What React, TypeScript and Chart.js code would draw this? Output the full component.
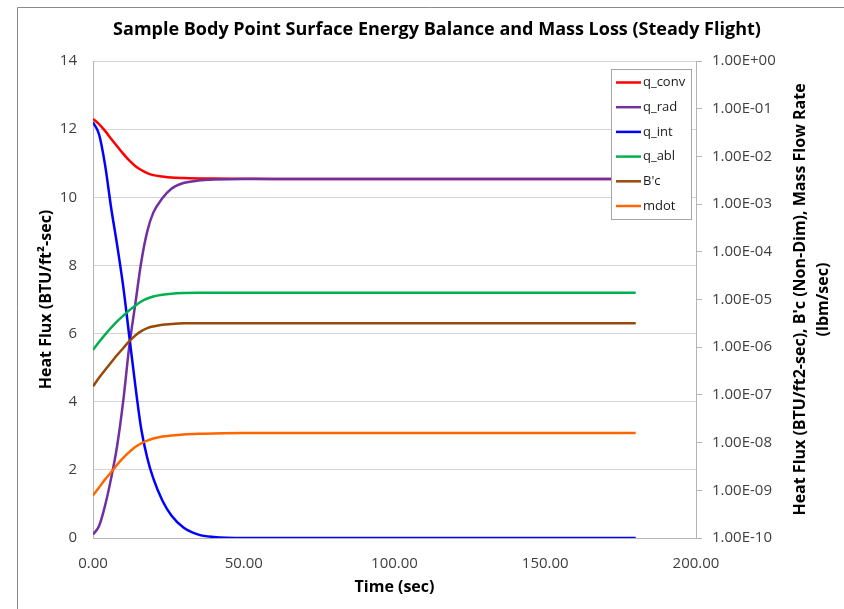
import { useEffect, useRef } from 'react';
import { Chart, registerables } from 'chart.js';

Chart.register(...registerables);

const times = [0, 2, 4, 6, 8, 10, 12, 14, 16, 18, 20, 23, 26, 30, 35, 40, 50, 60, 80, 100, 120, 140, 160, 180];

const qConv = [12.30, 12.15, 11.95, 11.72, 11.50, 11.28, 11.08, 10.92, 10.80, 10.71, 10.65, 10.61, 10.58, 10.565, 10.555, 10.55, 10.545, 10.54, 10.54, 10.54, 10.54, 10.54, 10.54, 10.54];
const qRad = [0.10, 0.35, 0.95, 1.75, 2.70, 4.00, 5.60, 6.85, 8.10, 9.00, 9.55, 9.97, 10.25, 10.42, 10.49, 10.52, 10.54, 10.54, 10.54, 10.54, 10.54, 10.54, 10.54, 10.54];
const qInt = [12.20, 11.85, 10.95, 9.70, 8.60, 7.40, 5.95, 4.50, 3.20, 2.35, 1.75, 1.10, 0.66, 0.31, 0.10, 0.03, 0.00, 0.00, 0.00, 0.00, 0.00, 0.00, 0.00, 0.00];
const qAbl = [5.52, 5.75, 5.97, 6.17, 6.36, 6.52, 6.68, 6.82, 6.94, 7.03, 7.09, 7.14, 7.17, 7.19, 7.20, 7.20, 7.20, 7.20, 7.20, 7.20, 7.20, 7.20, 7.20, 7.20];
const bPrimeC = [4.45, 4.70, 4.93, 5.15, 5.37, 5.57, 5.77, 5.94, 6.07, 6.16, 6.21, 6.26, 6.28, 6.30, 6.30, 6.30, 6.30, 6.30, 6.30, 6.30, 6.30, 6.30, 6.30, 6.30];
const mdot = [1.25, 1.48, 1.72, 1.93, 2.15, 2.35, 2.52, 2.67, 2.78, 2.86, 2.92, 2.98, 3.01, 3.04, 3.06, 3.07, 3.08, 3.08, 3.08, 3.08, 3.08, 3.08, 3.08, 3.08];

const seriesNames = ['q_conv', 'q_rad', 'q_int', 'q_abl', "B'c", 'mdot'];
const seriesColors = ['#FF0000', '#7030A0', '#0000FF', '#00B050', '#984807', '#FF6600'];

const xTickValues = [0, 50, 100, 150, 200];
const rightTickValues = [1e-10, 1e-9, 1e-8, 1e-7, 1e-6, 1e-5, 1e-4, 1e-3, 1e-2, 1e-1, 1];

const chartTitle = 'Sample Body Point Surface Energy Balance and Mass Loss (Steady Flight)';
const xTitle = 'Time (sec)';
const yTitle = 'Heat Flux (BTU/ft\u00B2-sec)';
const y1Title = ["Heat Flux (BTU/ft2-sec), B'c (Non-Dim), Mass Flow Rate", '(lbm/sec)'];

const FONT = "'Open Sans', sans-serif";
const TICK_COLOR = '#404040';
const AXIS_COLOR = '#b4b4b4';

function fmtSci(v: number): string {
  const e = Math.round(Math.log10(v));
  const a = Math.abs(e);
  return '1.00E' + (e < 0 ? '-' : '+') + (a < 10 ? '0' + a : String(a));
}

export default function App() {
  const ref = useRef<HTMLCanvasElement>(null);

  useEffect(() => {
    if (!ref.current) return;
    const values = [qConv, qRad, qInt, qAbl, bPrimeC, mdot];
    const datasets = values.map((v, i) => ({
      label: seriesNames[i],
      data: times.map((t, j) => ({ x: t, y: v[j] })),
      borderColor: seriesColors[i],
      backgroundColor: seriesColors[i],
      borderWidth: 2.5,
      pointRadius: 0,
      cubicInterpolationMode: 'monotone' as const,
      fill: false,
      yAxisID: 'y',
      order: values.length - i,
    }));

    const decor = {
      id: 'decor',
      beforeDraw(chart: any) {
        const ctx = chart.ctx as CanvasRenderingContext2D;
        ctx.save();
        ctx.fillStyle = '#ffffff';
        ctx.fillRect(0, 0, chart.width, chart.height);
        ctx.strokeStyle = '#8a8a8a';
        ctx.lineWidth = 1;
        ctx.beginPath();
        ctx.moveTo(17.5, chart.height);
        ctx.lineTo(17.5, 7.5);
        ctx.lineTo(chart.width, 7.5);
        ctx.stroke();
        ctx.restore();
      },
      afterDraw(chart: any) {
        const ctx = chart.ctx as CanvasRenderingContext2D;
        const area = chart.chartArea;
        ctx.save();
        // main title
        ctx.fillStyle = '#000000';
        ctx.font = `bold 18px ${FONT}`;
        ctx.textAlign = 'center';
        ctx.textBaseline = 'middle';
        ctx.fillText(chartTitle, 437, 30);
        // right axis title (reads bottom to top)
        const cy = (area.top + area.bottom) / 2;
        ctx.font = `bold 16px ${FONT}`;
        const xs = [800, 823];
        y1Title.forEach((line, k) => {
          ctx.save();
          ctx.translate(xs[k], cy);
          ctx.rotate(-Math.PI / 2);
          ctx.fillText(line, 0, 0);
          ctx.restore();
        });
        // legend
        const lx = 611.5, ly = 69.5, lw = 80, lh = 150;
        ctx.fillStyle = '#ffffff';
        ctx.fillRect(lx, ly, lw, lh);
        ctx.strokeStyle = '#a6a6a6';
        ctx.lineWidth = 1;
        ctx.strokeRect(lx, ly, lw, lh);
        ctx.font = `13px ${FONT}`;
        ctx.textAlign = 'left';
        chart.data.datasets.forEach((ds: any, i: number) => {
          const y = 82.5 + i * 24.7;
          ctx.strokeStyle = ds.borderColor;
          ctx.lineWidth = 2.5;
          ctx.beginPath();
          ctx.moveTo(616, y);
          ctx.lineTo(641, y);
          ctx.stroke();
          ctx.fillStyle = '#1a1a1a';
          ctx.fillText(ds.label, 643, y);
        });
        ctx.restore();
      },
    };

    const chart = new Chart(ref.current, {
      type: 'line',
      data: { datasets },
      options: {
        animation: false,
        responsive: false,
        devicePixelRatio: 1,
        layout: { padding: { top: 61, left: 0, right: 0, bottom: 0 } },
        plugins: {
          legend: { display: false },
          title: { display: false },
          tooltip: { enabled: false },
        },
        scales: {
          x: {
            type: 'linear',
            min: 0,
            max: 200,
            afterBuildTicks: (axis: any) => {
              axis.ticks = xTickValues.map((v) => ({ value: v }));
            },
            afterFit: (s: any) => {
              s.height = 71;
            },
            ticks: {
              callback: (v: any) => Number(v).toFixed(2),
              font: { family: FONT, size: 15 },
              color: TICK_COLOR,
              padding: 17,
              maxRotation: 0,
              autoSkip: false,
            },
            grid: { display: false, drawTicks: false },
            border: { display: true, color: AXIS_COLOR },
            title: {
              display: true,
              text: xTitle,
              font: { family: FONT, size: 16, weight: 'bold' },
              color: '#000000',
              padding: { top: 0, bottom: 12 },
            },
          },
          y: {
            type: 'linear',
            position: 'left',
            min: 0,
            max: 14,
            afterFit: (s: any) => {
              s.width = 93;
            },
            ticks: {
              stepSize: 2,
              font: { family: FONT, size: 15 },
              color: TICK_COLOR,
              padding: 16,
            },
            grid: { color: '#d4d4d4', drawTicks: false },
            border: { display: true, color: AXIS_COLOR },
            title: {
              display: true,
              text: yTitle,
              font: { family: FONT, size: 16, weight: 'bold' },
              color: '#000000',
              padding: { top: 37, bottom: 0 },
            },
          },
          y1: {
            type: 'logarithmic',
            position: 'right',
            min: 1e-10,
            max: 1,
            afterBuildTicks: (axis: any) => {
              axis.ticks = rightTickValues.map((v) => ({ value: v }));
            },
            afterFit: (s: any) => {
              s.width = 148;
            },
            ticks: {
              callback: (v: any) => fmtSci(Number(v)),
              font: { family: FONT, size: 15 },
              color: TICK_COLOR,
              padding: 10,
              autoSkip: false,
            },
            grid: { display: true, drawOnChartArea: false, drawTicks: true, tickLength: 6, color: AXIS_COLOR },
            border: { display: true, color: AXIS_COLOR },
            title: { display: false },
          },
        },
      } as any,
      plugins: [decor],
    });
    return () => chart.destroy();
  }, []);

  return (
    <div style={{ position: 'absolute', left: 0, top: 0, width: 844, height: 609 }}>
      <canvas ref={ref} width={844} height={609} style={{ display: 'block', width: 844, height: 609 }} />
    </div>
  );
}
